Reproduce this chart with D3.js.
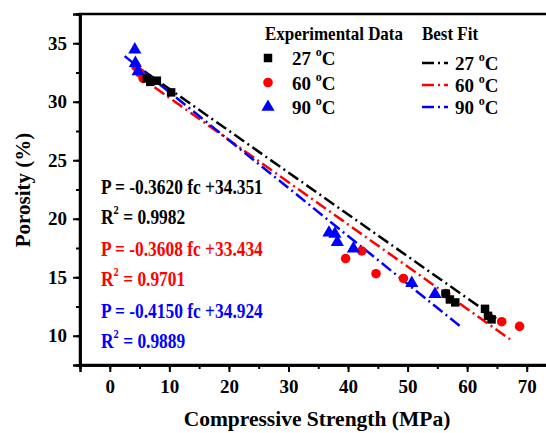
<!DOCTYPE html>
<html>
<head>
<meta charset="utf-8">
<script src="https://cdn.jsdelivr.net/npm/d3@7"></script>
<style>
  body { margin: 0; background: #fff; }
  svg text { font-family: "Liberation Serif", "Times New Roman", serif; font-weight: bold; }
</style>
</head>
<body>
<div id="chart"></div>
<script>
'use strict';

const data27x = [6.2, 6.8, 7.9, 10.3, 56.4, 57.1, 58.0, 63.0, 63.5, 64.1];
const data27y = [32.0, 31.7, 31.8, 30.8, 13.6, 13.1, 12.85, 12.3, 11.7, 11.4];
const data60x = [4.4, 5.0, 5.6, 39.6, 42.3, 44.7, 49.3, 56.4, 65.8, 68.8];
const data60y = [33.0, 32.5, 32.0, 16.6, 17.25, 15.3, 14.9, 13.6, 11.2, 10.8];
const data90x = [4.2, 4.3, 4.75, 36.8, 37.8, 38.2, 40.9, 50.7, 54.6];
const data90y = [34.45, 33.3, 32.6, 18.8, 18.7, 18.0, 17.45, 14.5, 13.55];

// best fit line end points
const fit27x = [5.8, 66.2];
const fit27y = [32.6, 11.0];
const fit60x = [4.5, 67.2];
const fit60y = [32.33, 9.7];
const fit90x = [2.5, 59.1];
const fit90y = [33.9, 10.7];

const legendLabels = ['27', '60', '90'];
const fitEquations = ['P = -0.3620 fc +34.351', 'P = -0.3608 fc +33.434', 'P = -0.4150 fc +34.924'];
const fitR2 = ['0.9982', '0.9701', '0.9889'];
const xTicks = [0, 10, 20, 30, 40, 50, 60, 70];
const yTicks = [10, 15, 20, 25, 30, 35];

const colors = ['#000000', '#ff0000', '#0000ff'];
const dash = '12,4,2,4';
// text in the original is a bit narrower than the font
const squeeze = 0.87;

const width = 546, height = 433;
const margin = {top: 14, left: 80, bottom: 68, right: -10.5};

const svg = d3.select('#chart').append('svg')
  .attr('width', width)
  .attr('height', height);

const xScale = d3.scaleLinear()
  .domain([-5, 75])
  .range([margin.left, width - margin.right]);

const yScale = d3.scaleLinear()
  .domain([7.5, 37.5])
  .range([height - margin.bottom, margin.top]);

// frame (right side falls outside the picture, as in the original)
svg.append('rect')
  .attr('x', xScale(-5))
  .attr('y', yScale(37.5))
  .attr('width', xScale(75) - xScale(-5))
  .attr('height', yScale(7.5) - yScale(37.5))
  .attr('fill', 'none')
  .attr('stroke', '#000')
  .attr('stroke-width', 2.5);

// minor + major ticks
const xMinor = d3.axisBottom(xScale).tickValues(d3.range(-5, 75, 5)).tickSize(4).tickFormat('');
const yMinor = d3.axisLeft(yScale).tickValues(d3.range(7.5, 37.6, 2.5)).tickSize(4).tickFormat('');
const xAxis = d3.axisBottom(xScale).tickValues(xTicks).tickSize(7).tickPadding(8);
const yAxis = d3.axisLeft(yScale).tickValues(yTicks).tickSize(7).tickPadding(6);

[xMinor, xAxis].forEach(function (ax) {
  svg.append('g')
    .attr('class', 'x-axis')
    .attr('transform', `translate(0, ${yScale(7.5)})`)
    .call(ax);
});
[yMinor, yAxis].forEach(function (ax) {
  svg.append('g')
    .attr('class', 'y-axis')
    .attr('transform', `translate(${xScale(-5)}, 0)`)
    .call(ax);
});

svg.selectAll('.x-axis, .y-axis').selectAll('path.domain')
  .attr('stroke-width', 2.5);
svg.selectAll('.x-axis, .y-axis').selectAll('.tick line')
  .attr('stroke-width', 2);
svg.selectAll('.x-axis, .y-axis').selectAll('.tick text')
  .attr('font-size', 19)
  .attr('fill', '#000');

// axis titles
svg.append('text')
  .attr('x', 317)
  .attr('y', 426)
  .attr('text-anchor', 'middle')
  .attr('font-size', 21.5)
  .text('Compressive Strength (MPa)');

svg.append('text')
  .attr('transform', 'translate(30, 190) rotate(-90)')
  .attr('text-anchor', 'middle')
  .attr('font-size', 21)
  .text('Porosity (%)');

// fit lines
const line = d3.line()
  .x(function (d) { return xScale(d[0]); })
  .y(function (d) { return yScale(d[1]); });

const fits = [
  d3.zip(fit27x, fit27y),
  d3.zip(fit60x, fit60y),
  d3.zip(fit90x, fit90y)
];
fits.forEach(function (f, i) {
  svg.append('path')
    .datum(f)
    .attr('d', line)
    .attr('fill', 'none')
    .attr('stroke', colors[i])
    .attr('stroke-width', 2.5)
    .attr('stroke-dasharray', dash);
});

// experimental points
const series = [
  d3.zip(data27x, data27y),
  d3.zip(data60x, data60y),
  d3.zip(data90x, data90y)
];
const symbols = [
  d3.symbol().type(d3.symbolSquare).size(72),
  d3.symbol().type(d3.symbolCircle).size(72),
  d3.symbol().type(d3.symbolTriangle).size(75)
];
[1, 2, 0].forEach(function (i) {
  svg.append('g')
    .selectAll('path')
    .data(series[i])
    .join('path')
    .attr('transform', function (d) { return `translate(${xScale(d[0])}, ${yScale(d[1])})`; })
    .attr('d', symbols[i])
    .attr('fill', colors[i]);
});

// legend
svg.append('text')
  .attr('transform', `translate(265, 40) scale(${squeeze}, 1)`)
  .attr('font-size', 19.5)
  .text('Experimental Data');
svg.append('text')
  .attr('transform', `translate(422, 40) scale(${squeeze}, 1)`)
  .attr('font-size', 19.5)
  .text('Best Fit');

function degreeLabel(g, x, y, value) {
  const t = g.append('text')
    .attr('x', x).attr('y', y)
    .attr('font-size', 19);
  t.append('tspan').text(value + ' ');
  t.append('tspan').attr('font-size', 12).attr('dy', -9).text('o');
  t.append('tspan').attr('dy', 9).text('C');
}

const legend = svg.append('g');
legendLabels.forEach(function (lab, i) {
  const ry = 58 + i * 24.5;
  legend.append('path')
    .attr('transform', `translate(268, ${ry})`)
    .attr('d', symbols[i])
    .attr('fill', colors[i]);
  degreeLabel(legend, 292, ry + 7, lab);

  const ly = 63 + i * 22;
  legend.append('line')
    .attr('x1', 422).attr('x2', 448)
    .attr('y1', ly).attr('y2', ly)
    .attr('stroke', colors[i])
    .attr('stroke-width', 2.5)
    .attr('stroke-dasharray', dash);
  degreeLabel(legend, 455, ly + 7, lab);
});

// equations
fitEquations.forEach(function (eq, i) {
  const y0 = 194 + i * 62;
  svg.append('text')
    .attr('transform', `translate(101, ${y0}) scale(${squeeze}, 1)`)
    .attr('font-size', 20)
    .attr('fill', colors[i])
    .text(eq);
  const r = svg.append('text')
    .attr('transform', `translate(101, ${y0 + 30}) scale(${squeeze}, 1)`)
    .attr('font-size', 20)
    .attr('fill', colors[i]);
  r.append('tspan').text('R');
  r.append('tspan').attr('font-size', 12).attr('dy', -10).text('2');
  r.append('tspan').attr('dy', 10).text(' = ' + fitR2[i]);
});
</script>
</body>
</html>
